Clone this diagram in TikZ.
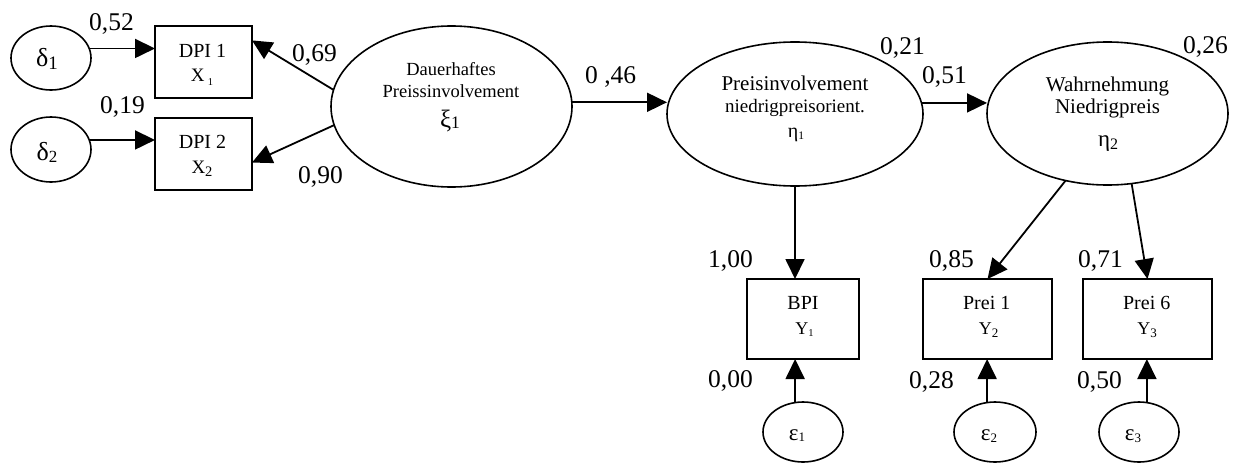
\documentclass[tikz,border=0pt]{standalone}
\usepackage{fontspec}
\setmainfont{Liberation Serif}
\usetikzlibrary{arrows.meta,shapes.geometric}
% lowered index: size, drop, text
\newcommand\lowidx[3]{\raisebox{-#2}{\fontsize{#1}{#1}\selectfont #3}}
\newcommand\fs[1]{\fontsize{#1}{#1}\selectfont}
\begin{document}
\begin{tikzpicture}[x=1pt,y=-1pt,
  obs/.style={draw,rectangle,line width=1.7pt,inner sep=0pt,outer sep=0pt},
  lat/.style={draw,ellipse,line width=1.6pt,inner sep=0pt,outer sep=0pt},
  arr/.style={line width=1.8pt,-{Triangle[length=20pt,width=19pt]}},
  num/.style={anchor=base west,inner sep=0pt,font=\fs{25.5pt}},
  txt/.style={anchor=base,inner sep=0pt}]
\useasboundingbox (0,0) rectangle (1241,463);

% error terms of the exogenous indicators
\node[lat,minimum width=80pt,minimum height=64pt] (d1) at (51,58) {};
\node[lat,minimum width=80pt,minimum height=65pt] (d2) at (51,149.5) {};
\node[txt] (d1t) at (47,66.7) {\fs{26pt}δ\lowidx{19pt}{3pt}{1}};
\node[txt] (d2t) at (47,160) {\fs{26pt}δ\lowidx{17pt}{2.7pt}{2}};

% exogenous indicators
\node[obs,minimum width=97pt,minimum height=72pt] (x1) at (203.5,62) {};
\node[obs,minimum width=97pt,minimum height=72pt] (x2) at (203.5,154) {};
\node[txt] (x1a) at (202.5,57) {\fs{20pt}DPI 1};
\node[txt] (x1b) at (202,81) {\fs{19pt}X\,\lowidx{10.5pt}{4pt}{1}};
\node[txt] (x2a) at (202.5,148) {\fs{20pt}DPI 2};
\node[txt] (x2b) at (202,173) {\fs{19pt}X\lowidx{14.5pt}{3.5pt}{2}};

% latent constructs
\node[lat,minimum width=241pt,minimum height=161pt] (xi) at (451.5,106.5) {};
\node[txt] (xia) at (451,75) {\fs{18.5pt}Dauerhaftes};
\node[txt] (xib) at (451,97) {\fs{18.5pt}Preissinvolvement};
\node[txt] (xic) at (450,127) {\fs{25pt}ξ\lowidx{17.5pt}{1pt}{1}};

\node[lat,minimum width=256pt,minimum height=144pt] (eta1) at (795,114) {};
\node[txt] (eta1a) at (795,90) {\fs{21pt}Preisinvolvement};
\node[txt] (eta1b) at (795,112) {\fs{19pt}niedrigpreisorient.};
\node[txt] (eta1c) at (796,137.6) {\fs{20pt}η\lowidx{11.5pt}{1.5pt}{1}};

\node[lat,minimum width=241pt,minimum height=143pt] (eta2) at (1107.5,113.5) {};
\node[txt] (eta2a) at (1107.5,91) {\fs{21pt}Wahrnehmung};
\node[txt] (eta2b) at (1107.5,113.3) {\fs{21pt}Niedrigpreis};
\node[txt] (eta2c) at (1108,146.6) {\fs{23pt}η\lowidx{16pt}{2.7pt}{2}};

% endogenous indicators
\node[obs,minimum width=112pt,minimum height=80pt] (y1) at (803,319) {};
\node[obs,minimum width=129pt,minimum height=80pt] (y2) at (987.5,319) {};
\node[obs,minimum width=129pt,minimum height=80pt] (y3) at (1147.5,319) {};
\node[txt] (y1a) at (803,309.3) {\fs{20pt}BPI};
\node[txt] (y1b) at (804.5,334) {\fs{18pt}Y\lowidx{10.5pt}{2.7pt}{1}};
\node[txt] (y2a) at (986.7,309) {\fs{20pt}Prei 1};
\node[txt] (y2b) at (988.7,334) {\fs{18pt}Y\lowidx{13pt}{3pt}{2}};
\node[txt] (y3a) at (1146.7,309) {\fs{20pt}Prei 6};
\node[txt] (y3b) at (1147,334) {\fs{18pt}Y\lowidx{13pt}{3pt}{3}};

% error terms of the endogenous indicators
\node[lat,minimum width=80pt,minimum height=60pt] (e1) at (803,432) {};
\node[lat,minimum width=82pt,minimum height=60pt] (e2) at (995,432) {};
\node[lat,minimum width=80pt,minimum height=60pt] (e3) at (1139,432) {};
\node[txt] (e1t) at (797,440) {\fs{23pt}ε\lowidx{13pt}{1.7pt}{1}};
\node[txt] (e2t) at (989,440.7) {\fs{23pt}ε\lowidx{13pt}{1.7pt}{2}};
\node[txt] (e3t) at (1133,440.7) {\fs{23pt}ε\lowidx{13pt}{1.7pt}{3}};

% paths
\draw[arr] (d1.14) -- (d1.14 -| x1.west);
\draw[arr] (d2.14) -- (d2.14 -| x2.west);
\draw[arr] (xi.172) -- (x1.24);
\draw[arr] (xi.189) -- (x2.350);
\draw[arr] (xi.2) -- (xi.2 -| eta1.west);
\draw[arr] (eta1.5) -- (eta1.5 -| eta2.west);
\draw[arr] (eta1.south) -- (eta1.south |- y1.north);
\draw[arr] (eta2.238) -- (y2.north);
\draw[arr] (eta2.289) -- (y3.north);
\draw[arr] (e1.105) -- (e1.105 |- y1.south);
\draw[arr] (e2.105) -- (e2.105 |- y2.south);
\draw[arr] (e3.75) -- (e3.75 |- y3.south);

% coefficients
\node[num] (c1) at (89,30) {0,52};
\node[num] (c2) at (292,61) {0,69};
\node[num] (c3) at (100,113) {0,19};
\node[num] (c4) at (298,183) {0,90};
\node[num] (c5) at (585,83) {0 ,46};
\node[num] (c6) at (880,54) {0,21};
\node[num] (c7) at (922,83) {0,51};
\node[num] (c8) at (1183,53) {0,26};
\node[num] (c9) at (708,267) {1,00};
\node[num] (c10) at (929,267) {0,85};
\node[num] (c11) at (1078,267) {0,71};
\node[num] (c12) at (708,387) {0,00};
\node[num] (c13) at (909,388) {0,28};
\node[num] (c14) at (1077,388) {0,50};
\end{tikzpicture}
\end{document}
